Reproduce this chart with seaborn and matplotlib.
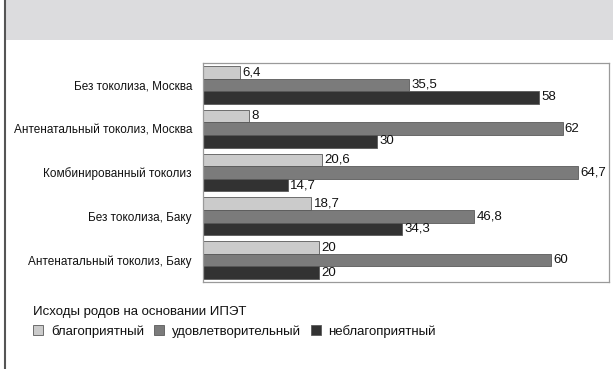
import matplotlib
matplotlib.use("Agg")
import matplotlib.pyplot as plt
import seaborn as sns
import pandas as pd
from matplotlib.patches import Rectangle
from matplotlib.lines import Line2D

categories = ["Без токолиза, Москва", "Антенатальный токолиз, Москва",
              "Комбинированный токолиз", "Без токолиза, Баку",
              "Антенатальный токолиз, Баку"]
outcomes = ["благоприятный", "удовлетворительный", "неблагоприятный"]
favorable = [6.4, 8, 20.6, 18.7, 20]
satisfactory = [35.5, 62, 64.7, 46.8, 60]
unfavorable = [58, 30, 14.7, 34.3, 20]
legend_title = "Исходы родов на основании ИПЭТ"
colors = ["#cbcbcb", "#7b7b7b", "#323232"]

rows = []
for series, name in zip([favorable, satisfactory, unfavorable], outcomes):
    for c, v in zip(categories, series):
        rows.append({"cat": c, "val": v, "out": name})
df = pd.DataFrame(rows)

sns.set_theme(style="white")
plt.rcParams['font.family'] = ['Liberation Sans', 'DejaVu Sans']

fig = plt.figure(figsize=(6.13, 3.69), dpi=100)
W, H = 613, 369
# header band and left border
fig.patches.append(Rectangle((6 / W, 1 - 40 / H), 1, 40 / H, transform=fig.transFigure,
                             facecolor="#dcdcde", edgecolor="none", zorder=0))
fig.lines.append(Line2D([5 / W, 5 / W], [0, 1], transform=fig.transFigure,
                        color="#555555", linewidth=1.5))

ax = fig.add_axes([203 / W, 1 - 282 / H, (609 - 203) / W, (282 - 63) / H])
sns.barplot(data=df, y="cat", x="val", hue="out", order=categories,
            hue_order=outcomes, palette=colors, orient="h", width=0.86,
            edgecolor="#5a5a5a", linewidth=0.6, ax=ax, legend=True)

for cont in ax.containers:
    labels = [("%g" % b.get_width()).replace(".", ",") for b in cont]
    ax.bar_label(cont, labels=labels, padding=1.5, fontsize=9.5, color="#111111")

ax.set_xlim(0, 70)
ax.set_ylim(4.5, -0.5)
ax.set_xlabel("")
ax.set_ylabel("")
ax.set_xticks([])
ax.tick_params(axis="y", length=0, pad=8, labelsize=8.5, labelcolor="#111111")
for s in ax.spines.values():
    s.set_color("#9a9a9a")
    s.set_linewidth(0.9)

handles, labs = ax.get_legend_handles_labels()
ax.get_legend().remove()
leg = fig.legend(handles, labs, title=legend_title, loc="upper left",
                 bbox_to_anchor=(28 / W, 1 - 301 / H), ncol=3, frameon=False,
                 fontsize=9.5, title_fontsize=9.5, alignment="left",
                 handlelength=0.75, handleheight=0.75, handletextpad=0.6,
                 columnspacing=0.75, borderaxespad=0)
leg.get_title().set_color("#111111")
for t in leg.get_texts():
    t.set_color("#111111")

fig.savefig("out.png", dpi=100)
